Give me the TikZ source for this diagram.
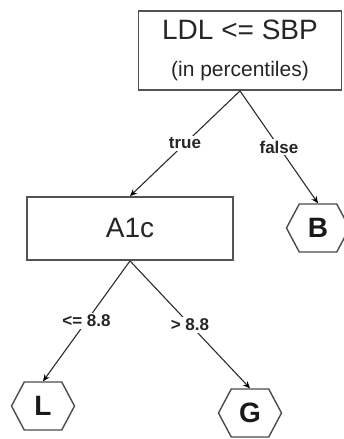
\documentclass[tikz,border=0pt]{standalone}
\usepackage{fontspec}
\setmainfont{Liberation Sans}
\usetikzlibrary{shapes.symbols, arrows.meta}

\begin{document}
\begin{tikzpicture}[x=1pt,y=-1pt]\tikzset{->,>={Stealth[length=7pt,width=6pt,black]},
	every edge/.style={draw, gray!35!black, line width=1.1pt},
	split/.style={draw=gray!65!black, line width=1.8pt, fill=white, text=black!85, align=center, font=\fontsize{28}{37}\selectfont},
	leaf/.style={signal, signal to=west and east, signal pointer angle=124, draw=gray!60!black, line width=1.4pt, fill=white, text=black!90, minimum width=63pt, minimum height=48pt, inner sep=0pt, font=\fontsize{28}{30}\selectfont\bfseries},
	branch/.style={fill=white, inner sep=2pt, text=black!85, font=\fontsize{17}{18}\selectfont\bfseries}}
	\useasboundingbox[fill=white] (0,0) rectangle (343,439);
	\node[split, minimum width=203pt, minimum height=79pt, font=\fontsize{21}{37}\selectfont] (0) at (240,50.5) {{\fontsize{28}{37}\selectfont LDL <= SBP}\\(in percentiles)};
	\node[split, minimum width=206pt, minimum height=63pt] (1) at (130,228.5) {A1c};
	\node[leaf] (2) at (318,228) {B};
	\node[leaf] (3) at (43,406) {L};
	\node[leaf] (4) at (250,413) {G};
	\path (0.south) edge node[branch] {true} (1.north);
	\path (0.south) edge node[branch] {false} (2.north);
	\path (1.south) edge node[branch] {<= 8.8} (3.north);
	\path (1.south) edge node[branch] {> 8.8} (4.north);\end{tikzpicture}
\end{document}
